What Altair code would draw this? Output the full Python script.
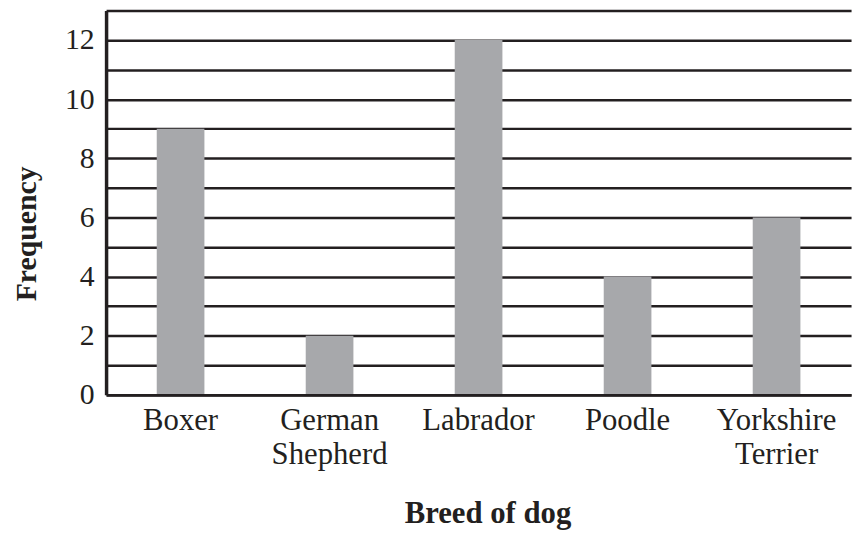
import altair as alt
import pandas as pd

breeds = ["Boxer", "German Shepherd", "Labrador", "Poodle", "Yorkshire Terrier"]
freq = [9, 2, 12, 4, 6]
y_grid_values = list(range(0, 14))

df = pd.DataFrame({"breed": breeds, "freq": freq})

FONT = "Liberation Serif, Times New Roman, serif"
INK = "#231f20"

chart = alt.Chart(df).mark_bar(color="#a7a8ab").encode(
    x=alt.X(
        "breed:N",
        sort=breeds,
        title="Breed of dog",
        scale=alt.Scale(paddingInner=0.68, paddingOuter=0.34),
        axis=alt.Axis(
            labelAngle=0,
            labelExpr="split(datum.label, ' ')",
            labelFont=FONT,
            labelFontSize=31,
            labelColor=INK,
            labelBaseline="alphabetic",
            labelPadding=35,
            labelLineHeight=34,
            ticks=False,
            domainColor=INK,
            domainWidth=3,
            titleFont=FONT,
            titleFontSize=31,
            titleFontWeight="bold",
            titleColor=INK,
            titleX=385,
            titleY=129,
            titleBaseline="alphabetic",
            titleAlign="center",
            zindex=1,
        ),
    ),
    y=alt.Y(
        "freq:Q",
        title="Frequency",
        scale=alt.Scale(domain=[0, 13], nice=False, zero=True),
        axis=alt.Axis(
            values=y_grid_values,
            labelExpr="datum.value % 2 == 0 ? datum.label : ''",
            labelFont=FONT,
            labelFontSize=30,
            labelColor=INK,
            labelPadding=12,
            ticks=False,
            grid=True,
            gridColor=INK,
            gridWidth=2.5,
            gridOpacity=1,
            domainColor=INK,
            domainWidth=3.5,
            titleFont=FONT,
            titleFontSize=30,
            titleFontWeight="bold",
            titleColor=INK,
            titleAngle=270,
            titleX=-71,
            titleY=225,
            titleBaseline="alphabetic",
            titleAlign="center",
        ),
    ),
).properties(
    width=752,
    height=388,
    autosize="none",
    padding={"left": 99, "top": 0, "right": 7, "bottom": 146},
).configure_view(stroke=None)

chart.save("out.html", embed_options={"renderer": "svg", "actions": False})
